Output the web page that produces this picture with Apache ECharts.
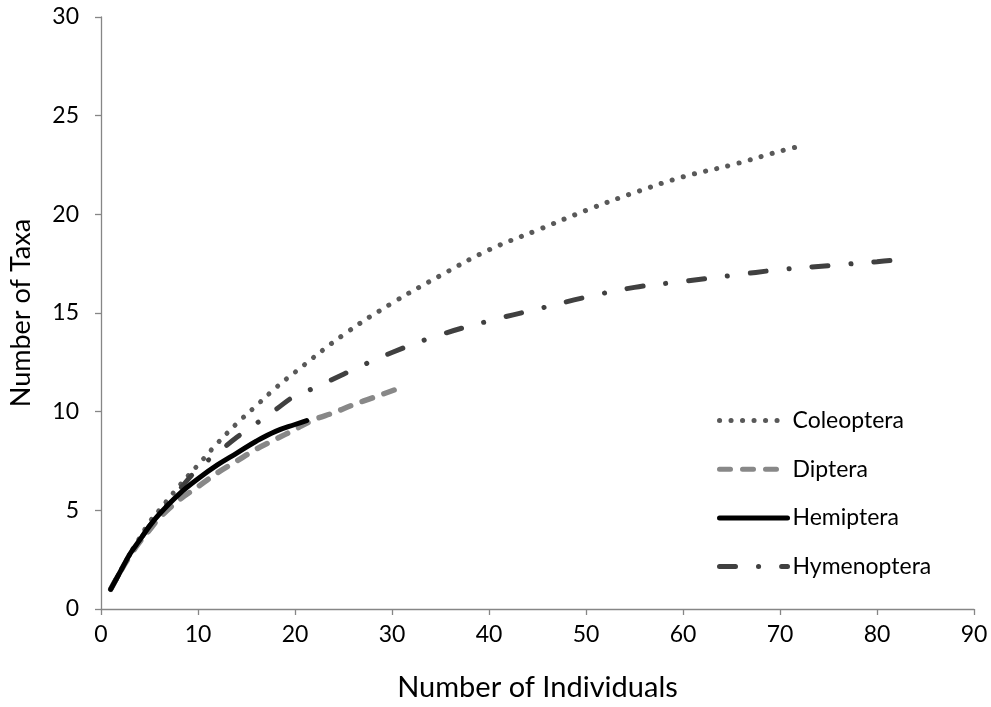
<!DOCTYPE html>
<html>
<head>
<meta charset="utf-8">
<script src="https://cdn.jsdelivr.net/npm/echarts@6/dist/echarts.min.js"></script>
<style>
html,body{margin:0;padding:0;background:#fff;}
#chart{width:991px;height:707px;}
</style>
</head>
<body>
<div id="chart"></div>
<script>
var seriesNames = ['Coleoptera', 'Diptera', 'Hemiptera', 'Hymenoptera'];
var coleoptera = [[1,1],[2,1.9],[3,2.8],[4,3.6],[5,4.4],[6,5.0],[8,6.2],[10,7.3],[12,8.4],[14,9.4],[16,10.3],[18,11.2],[20,12.0],[25,13.9],[30,15.5],[35,16.9],[40,18.2],[45,19.2],[50,20.2],[55,21.1],[60,21.9],[65,22.5],[70,23.2],[72.5,23.5]];
var diptera = [[1,1],[2,1.9],[3,2.7],[4,3.4],[5,4.0],[6,4.6],[8,5.5],[10,6.2],[12,6.9],[14,7.5],[16,8.1],[18,8.6],[20,9.1],[22,9.6],[24,9.95],[26,10.35],[28,10.7],[30.5,11.15]];
var hemiptera = [[1,1],[2,1.9],[3,2.8],[4,3.5],[5,4.2],[6,4.8],[8,5.8],[10,6.6],[12,7.3],[14,7.9],[16,8.5],[18,9.0],[20,9.35],[21.2,9.55]];
var hymenoptera = [[1,1],[2,1.9],[3,2.8],[4,3.5],[5,4.2],[6,4.8],[8,6.0],[10,7.1],[12,7.9],[14,8.7],[16,9.4],[18,10.1],[20,10.8],[22,11.2],[25,11.9],[30,13.0],[35,13.9],[40,14.6],[45,15.2],[50,15.8],[55,16.3],[60,16.6],[65,16.9],[70,17.2],[75,17.4],[80,17.6],[82.2,17.7]];
var xTicks = {min: 0, max: 90, interval: 10};
var yTicks = {min: 0, max: 30, interval: 5};

var FONT = 'Lato';
var chart = echarts.init(document.getElementById('chart'));
var axisLineStyle = {color: '#868686', width: 1.3};
chart.setOption({
  animation: false,
  backgroundColor: '#fff',
  grid: {left: 101, right: 17, top: 17, bottom: 96},
  legend: {
    orient: 'vertical',
    left: 712,
    top: 404,
    itemWidth: 68,
    itemHeight: 22,
    itemGap: 25.7,
    data: seriesNames,
    itemStyle: {opacity: 0},
    lineStyle: {width: 5},
    textStyle: {fontFamily: FONT, fontSize: 23, color: '#000', padding: [0,0,0,0]}
  },
  xAxis: {
    type: 'value', min: xTicks.min, max: xTicks.max, interval: xTicks.interval,
    name: 'Number of Individuals', nameLocation: 'middle', nameGap: 64,
    nameTextStyle: {fontFamily: FONT, fontSize: 29, color: '#000'},
    axisLine: {show: true, lineStyle: axisLineStyle},
    axisTick: {show: true, length: 6, lineStyle: axisLineStyle},
    axisLabel: {fontFamily: FONT, fontSize: 23, color: '#000', margin: 14},
    splitLine: {show: false}
  },
  yAxis: {
    type: 'value', min: yTicks.min, max: yTicks.max, interval: yTicks.interval,
    name: 'Number of Taxa', nameLocation: 'middle', nameGap: 66,
    nameTextStyle: {fontFamily: FONT, fontSize: 27, color: '#000'},
    axisLine: {show: true, lineStyle: axisLineStyle},
    axisTick: {show: true, length: 6, lineStyle: axisLineStyle},
    axisLabel: {fontFamily: FONT, fontSize: 23, color: '#000', margin: 22},
    splitLine: {show: false}
  },
  series: [
    {name: 'Coleoptera', type: 'line', data: coleoptera, smooth: 0.4, symbol: 'none', z: 2,
     itemStyle: {color: '#595959'},
     lineStyle: {color: '#595959', width: 5, type: [0.1, 11.4], cap: 'round'}},
    {name: 'Diptera', type: 'line', data: diptera, smooth: 0.4, symbol: 'none', z: 3,
     itemStyle: {color: '#888888'},
     lineStyle: {color: '#888888', width: 5.5, type: [11, 12], cap: 'round'}},
    {name: 'Hemiptera', type: 'line', data: hemiptera, smooth: 0.4, symbol: 'none', z: 4,
     itemStyle: {color: '#000000'},
     lineStyle: {color: '#000000', width: 5, type: 'solid', cap: 'round'}},
    {name: 'Hymenoptera', type: 'line', data: hymenoptera, smooth: 0.4, symbol: 'none', z: 2,
     itemStyle: {color: '#404040'},
     lineStyle: {color: '#404040', width: 5, type: [16, 23, 0.1, 23], cap: 'round'}}
  ]
});
</script>
</body>
</html>
